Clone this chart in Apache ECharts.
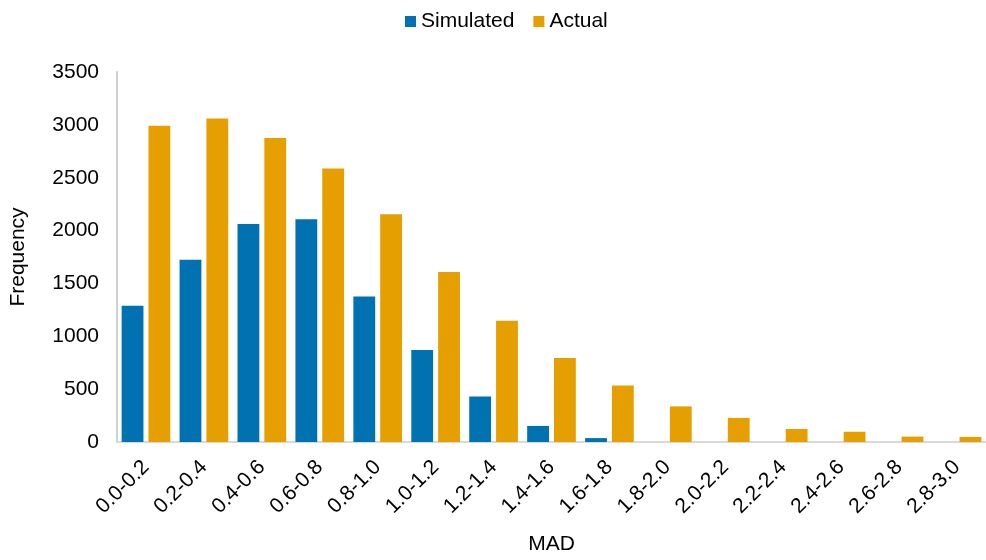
<!DOCTYPE html>
<html>
<head>
<meta charset="utf-8">
<script src="https://cdn.jsdelivr.net/npm/echarts@6/dist/echarts.min.js"></script>
<style>
  html, body { margin: 0; padding: 0; background: #ffffff; }
  #chart { width: 986px; height: 560px; }
</style>
</head>
<body>
<div id="chart"></div>
<script>
// MAD bins on the x axis
const categories = ['0.0-0.2', '0.2-0.4', '0.4-0.6', '0.6-0.8', '0.8-1.0', '1.0-1.2', '1.2-1.4',
  '1.4-1.6', '1.6-1.8', '1.8-2.0', '2.0-2.2', '2.2-2.4', '2.4-2.6', '2.6-2.8', '2.8-3.0'];

// Frequency counts per bin
const simulated = [1290, 1724, 2061, 2108, 1377, 870, 430, 152, 37, 0, 0, 0, 0, 0, 0];
const actual = [2992, 3061, 2875, 2587, 2154, 1609, 1148, 795, 535, 337, 228, 123, 97, 51, 48];

const FONT = '"Liberation Sans", Arial, sans-serif';

const chart = echarts.init(document.getElementById('chart'), null, { renderer: 'canvas' });

chart.setOption({
  animation: false,
  textStyle: { fontFamily: FONT },
  legend: {
    data: ['Simulated', 'Actual'],
    left: 400,
    top: 6,
    icon: 'rect',
    itemWidth: 11,
    itemHeight: 11,
    itemGap: 19,
    textStyle: { fontFamily: FONT, fontSize: 21, color: '#000000' }
  },
  grid: { left: 116, top: 72, width: 875, height: 377, containLabel: false },
  xAxis: {
    type: 'category',
    data: categories,
    name: 'MAD',
    nameLocation: 'middle',
    nameGap: 92,
    nameTextStyle: { fontFamily: FONT, fontSize: 21, color: '#000000' },
    axisLine: { lineStyle: { color: '#d9d9d9', width: 2 } },
    axisTick: { show: false },
    axisLabel: { rotate: 45, margin: 22, interval: 0, fontFamily: FONT, fontSize: 21, color: '#000000' }
  },
  yAxis: {
    type: 'value',
    min: 0,
    max: 3500,
    interval: 500,
    name: 'Frequency',
    nameLocation: 'middle',
    nameGap: 88,
    nameTextStyle: { fontFamily: FONT, fontSize: 21, color: '#000000' },
    axisLine: { show: true, lineStyle: { color: '#d0d0d0', width: 2 } },
    axisTick: { show: false },
    splitLine: { show: false },
    axisLabel: {
      margin: 18,
      fontFamily: FONT,
      fontSize: 21,
      color: '#000000',
      formatter: (v) => String(v)
    }
  },
  series: [
    {
      name: 'Simulated',
      type: 'bar',
      data: simulated,
      itemStyle: { color: '#0072B2' },
      barGap: '23%',
      barCategoryGap: '16%'
    },
    {
      name: 'Actual',
      type: 'bar',
      data: actual,
      itemStyle: { color: '#E69F00' }
    }
  ]
});
</script>
</body>
</html>
